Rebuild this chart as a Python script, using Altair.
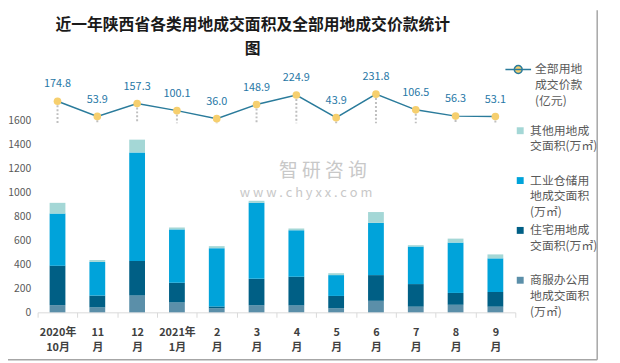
import altair as alt
import pandas as pd

months = ["2020年|10月", "11|月", "12|月", "2021年|1月", "2|月", "3|月",
          "4|月", "5|月", "6|月", "7|月", "8|月", "9|月"]
commercial = [60, 41, 140, 82, 33, 58, 58, 33, 96, 47, 63, 47]
residential = [330, 99, 289, 165, 16, 222, 239, 104, 215, 189, 99, 123]
industrial = [435, 281, 907, 446, 487, 635, 388, 174, 437, 314, 421, 281]
other = [90, 16, 107, 16, 17, 17, 16, 16, 90, 11, 33, 33]
price = [174.8, 53.9, 157.3, 100.1, 36.0, 148.9, 224.9, 43.9, 231.8, 106.5, 56.3, 53.1]

series_names = ["其他用地成|交面积(万㎡)", "工业仓储用|地成交面积|(万㎡)",
                "住宅用地成|交面积(万㎡)", "商服办公用|地成交面积|(万㎡)"]
series_colors = ["#A4D7D6", "#00A3DA", "#005F85", "#5B8FA9"]
line_name = "全部用地|成交价款|(亿元)"
y_ticks = [0, 200, 400, 600, 800, 1000, 1200, 1400, 1600]
title_text = "近一年陕西省各类用地成交面积及全部用地成交价款统计|图"

FONT = "Noto Sans CJK SC"

rows = []
for i, m in enumerate(months):
    for order, (name, vals) in enumerate([(series_names[3], commercial),
                                          (series_names[2], residential),
                                          (series_names[1], industrial),
                                          (series_names[0], other)]):
        rows.append({"month": m, "series": name, "value": vals[i], "ord": order})
bar_df = pd.DataFrame(rows)
line_df = pd.DataFrame({"month": months, "price": price, "zero": [0] * len(months),
                        "series": [line_name] * len(months),
                        "label": [f"{p:.1f}" for p in price]})

X = alt.X("month:N", sort=months, scale=alt.Scale(paddingInner=0, paddingOuter=0), title=None,
          axis=alt.Axis(labelExpr="split(datum.label, '|')", labelAngle=0,
                        labelFont=FONT, labelFontSize=11, labelFontWeight="bold",
                        labelColor="#404040", labelLineHeight=16, labelPadding=9,
                        tickBand="extent", tickSize=5, tickColor="#D9D9D9",
                        domainColor="#D9D9D9", domainWidth=1, grid=False))
line_y_scale = alt.Scale(domain=[-1512, 334])

bars = alt.Chart(bar_df).mark_bar(size=16).encode(
    x=X,
    y=alt.Y("value:Q", stack="zero", scale=alt.Scale(domain=[0, 1930]), title=None,
            axis=alt.Axis(values=y_ticks, format="d", domain=False, ticks=False, grid=False,
                          labelFont=FONT, labelFontSize=10.5, labelColor="#595959",
                          labelPadding=7)),
    color=alt.Color("series:N", scale=alt.Scale(domain=series_names, range=series_colors),
                    legend=alt.Legend(orient="none", legendX=483, legendY=44, title=None,
                                      symbolType="square", symbolSize=49,
                                      symbolStrokeWidth=0, gridAlign="all",
                                      labelExpr="split(datum.label, '|')",
                                      labelFont=FONT, labelFontSize=12,
                                      labelColor="#595959",
                                      labelLimit=200, labelOffset=4, rowPadding=6.5)),
    order=alt.Order("ord:Q", sort="ascending"),
)

drops = alt.Chart(line_df).mark_rule(color="#BFBFBF", strokeWidth=2, strokeDash=[2, 2]).encode(
    x=X,
    y=alt.Y("price:Q", scale=line_y_scale, axis=None),
    y2="zero:Q",
)

line = alt.Chart(line_df).mark_line(strokeWidth=1.5).encode(
    x=X,
    y=alt.Y("price:Q", scale=line_y_scale, axis=None),
    stroke=alt.Stroke("series:N", scale=alt.Scale(domain=[line_name], range=["#2A7B9B"]),
                      legend=alt.Legend(orient="none", legendX=473, legendY=-26, title=None,
                                        symbolType="M-1,0H1M-0.31,0A0.31,0.31,0,1,1,0.31,0A0.31,0.31,0,1,1,-0.31,0",
                                        symbolSize=676, symbolFillColor="#F6CF6E",
                                        symbolStrokeWidth=1.5,
                                        labelExpr="split(datum.label, '|')",
                                        labelFont=FONT, labelFontSize=12,
                                        labelColor="#595959",
                                        labelLimit=200, labelOffset=3)),
)

points = alt.Chart(line_df).mark_point(filled=True, size=60, color="#F6CF6E", opacity=1).encode(
    x=X,
    y=alt.Y("price:Q", scale=line_y_scale, axis=None),
)

labels = alt.Chart(line_df).mark_text(dy=-17, font=FONT, fontSize=11, color="#2777A6").encode(
    x=X,
    y=alt.Y("price:Q", scale=line_y_scale, axis=None),
    text="label:N",
)

txt_df = pd.DataFrame({"title": [title_text], "t": ["智  研  咨  询"],
                       "u": ["w w w . c h y x x . c o m"]})
title = alt.Chart(txt_df).mark_text(font=FONT, fontSize=16, fontWeight="bold", color="#1A1A1A",
                                    lineBreak="|", lineHeight=24, baseline="middle").encode(
    x=alt.value(218), y=alt.value(-57), text="title:N")
wm1 = alt.Chart(txt_df).mark_text(font=FONT, fontSize=19, color="#C8C8C8").encode(
    x=alt.value(289), y=alt.value(91), text="t:N")
wm2 = alt.Chart(txt_df).mark_text(font=FONT, fontSize=13, color="#C8C8C8").encode(
    x=alt.value(272), y=alt.value(113), text="u:N")

border_r = alt.Chart(txt_df).mark_rule(color="#A6A6A6", strokeWidth=1.5).encode(
    x=alt.value(567), y=alt.value(-72), y2=alt.value(282))
border_b = alt.Chart(txt_df).mark_rule(color="#A6A6A6", strokeWidth=1.5).encode(
    x=alt.value(-30), x2=alt.value(567), y=alt.value(282))

chart = alt.layer(bars, drops, line, points, labels, wm1, wm2, title, border_r, border_b).resolve_scale(
    y="independent", color="independent", stroke="independent"
).properties(
    width=484, height=234,
    padding={"left": 30, "top": 72, "right": 98, "bottom": 49},
    autosize=alt.AutoSizeParams(type="none"),
).configure(view=alt.ViewConfig(strokeWidth=0),
            style={"guide-label": {"lineHeight": 16}})

chart.save("out.html", embed_options={"renderer": "svg", "actions": False})
